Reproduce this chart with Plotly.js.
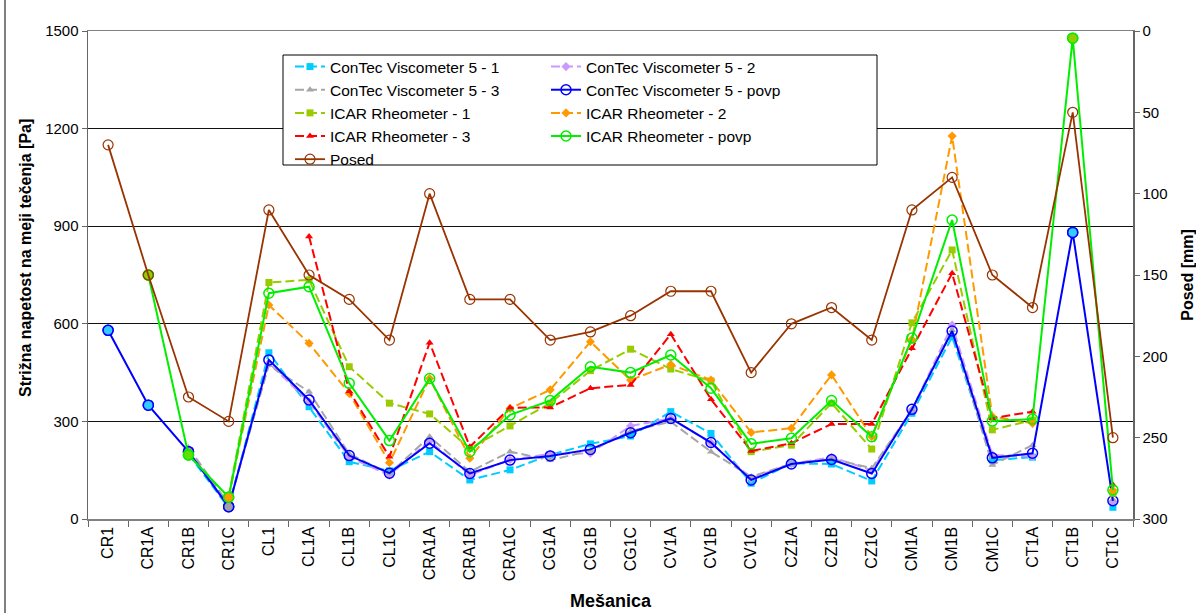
<!DOCTYPE html>
<html>
<head>
<meta charset="utf-8">
<script src="https://cdn.plot.ly/plotly-3.0.1.min.js"></script>
<style>html,body{margin:0;padding:0;background:#fff;}#chart{width:1196px;height:613px;}</style>
</head>
<body>
<div id="chart"></div>
<script>
const categories = ["CR1","CR1A","CR1B","CR1C","CL1","CL1A","CL1B","CL1C","CRA1A","CRA1B","CRA1C","CG1A","CG1B","CG1C","CV1A","CV1B","CV1C","CZ1A","CZ1B","CZ1C","CM1A","CM1B","CM1C","CT1A","CT1B","CT1C"];

const contec1 = [null,null,200,34,511,345,176,148,207,120,151,197,231,255,330,263,110,171,169,117,325,560,181,190,null,36];
const contec2 = [null,null,210,40,479,360,190,135,240,135,182,200,202,286,309,234,125,170,190,150,335,596,197,192,null,53];
const contec3 = [null,null,220,45,473,391,200,140,253,145,207,181,210,270,299,207,130,170,185,156,335,580,166,227,null,60];
const contecAvg = [580,350,207,38,489,366,195,141,233,140,181,194,214,265,309,235,120,169,183,140,337,578,188,202,881,56];

const icar1 = [null,null,null,70,727,735,468,356,323,217,286,356,456,522,461,424,207,227,356,215,603,827,274,304,null,79];
const icar2 = [null,null,null,67,658,540,386,173,432,187,340,397,545,427,475,427,266,279,443,253,552,1177,315,294,null,88];
const icar3 = [null,null,null,null,null,868,393,191,542,222,342,343,402,412,568,368,209,233,292,292,525,755,310,330,null,105];
const icarAvg = [null,750,197,67,694,714,417,241,432,207,320,364,468,450,504,402,231,248,364,253,556,919,301,307,1478,89];

const posed = [70,150,225,240,110,150,165,190,100,165,165,190,185,175,160,160,210,180,170,190,110,90,150,170,50,250];

const seriesNames = ["ConTec Viscometer 5 - 1","ConTec Viscometer 5 - 2","ConTec Viscometer 5 - 3","ConTec Viscometer 5 - povp","ICAR Rheometer - 1","ICAR Rheometer - 2","ICAR Rheometer - 3","ICAR Rheometer - povp","Posed"];
const yTicksLeft = [0,300,600,900,1200,1500];
const yTicksRight = [0,50,100,150,200,250,300];
</script>
<script>
const dash = '9px,4px';
const transparent = 'rgba(0,0,0,0)';
const T = (name, y, color, symbol, dashed, legend, opts) => Object.assign({
  type: 'scatter', mode: 'lines+markers', name: name, x: categories, y: y,
  line: {color: color, width: 2, dash: dashed ? dash : 'solid'},
  marker: {symbol: symbol, size: 7, color: color},
  legend: legend, legendgroup: name, connectgaps: false
}, opts || {});

// points drawn with a filled average marker (only one measurement shown)
const contecFillColor = {0: '#33ccff', 1: '#33ccff', 24: '#33ccff', 2: '#a0a0a0', 3: '#a0a0a0'};
const icarFillColor = {1: '#99cc00', 24: '#99cc00', 2: '#66dd00', 3: '#ff9900'};
const filledOverlay = (vals, fills, lineColor) => {
  const idx = Object.keys(fills).map(Number).sort((a, b) => a - b);
  return {
    type: 'scatter', mode: 'markers', showlegend: false, hoverinfo: 'skip',
    x: idx.map(i => categories[i]), y: idx.map(i => vals[i]),
    marker: {symbol: 'circle', size: 10, color: idx.map(i => fills[i]), line: {color: lineColor, width: 1.5}}
  };
};

const traces = [
  T(seriesNames[0], contec1, '#00ccff', 'square', true, 'legend'),
  T(seriesNames[1], contec2, '#cc99ff', 'diamond', true, 'legend2'),
  T(seriesNames[2], contec3, '#a6a6a6', 'triangle-up', true, 'legend'),
  T(seriesNames[3], contecAvg, '#0000ff', 'circle', false, 'legend2',
    {marker: {symbol: 'circle', size: 10, color: transparent, line: {color: '#0000ff', width: 1.5}}}),
  filledOverlay(contecAvg, contecFillColor, '#0000ff'),
  T(seriesNames[4], icar1, '#99cc00', 'square', true, 'legend'),
  T(seriesNames[5], icar2, '#ff9900', 'diamond', true, 'legend2'),
  T(seriesNames[6], icar3, '#ff0000', 'triangle-up', true, 'legend'),
  T(seriesNames[7], icarAvg, '#00ee00', 'circle', false, 'legend2',
    {marker: {symbol: 'circle', size: 10, color: transparent, line: {color: '#00ee00', width: 1.5}}}),
  filledOverlay(icarAvg, icarFillColor, '#00ee00'),
  T(seriesNames[8], posed, '#993300', 'circle-open', false, 'legend',
    {yaxis: 'y2', line: {color: '#993300', width: 1.8}, marker: {symbol: 'circle-open', size: 10, color: '#993300', line: {width: 1.2}}})
];

const font = "'Liberation Sans', Arial, sans-serif";
const px = v => (v - 88) / 1045;
const py = v => (519 - v) / 488;
const layout = {
  width: 1196, height: 613,
  margin: {l: 88, r: 63, t: 31, b: 94},
  paper_bgcolor: '#ffffff', plot_bgcolor: '#ffffff',
  font: {family: font, color: '#000', size: 15},
  showlegend: true,
  xaxis: {
    type: 'category', categoryorder: 'array', categoryarray: categories,
    range: [-0.5, categories.length - 0.5],
    tickangle: -90, tickfont: {size: 16, family: font},
    ticks: 'outside', tickson: 'boundaries', ticklen: 6, tickcolor: '#666',
    showline: true, linecolor: '#808080', linewidth: 1.5, mirror: true,
    showgrid: false, zeroline: false, automargin: false,
    title: {text: 'Mešanica', font: {size: 18, family: font, weight: 'bold'}, standoff: 14}
  },
  yaxis: {
    range: [0, 1500], tickvals: yTicksLeft, ticktext: yTicksLeft.map(String),
    tickfont: {size: 15, family: font},
    ticks: 'outside', ticklen: 5, tickcolor: '#666',
    showline: true, linecolor: '#666', linewidth: 1.5,
    showgrid: true, gridcolor: '#111', gridwidth: 1, zeroline: false, automargin: false
  },
  yaxis2: {
    overlaying: 'y', side: 'right', range: [300, 0], autorange: false,
    tickvals: yTicksRight, ticktext: yTicksRight.map(String),
    tickfont: {size: 15, family: font},
    ticks: 'outside', ticklen: 5, tickcolor: '#666',
    showline: true, linecolor: '#666', linewidth: 1.5,
    showgrid: false, zeroline: false, automargin: false,
    title: {text: 'Posed [mm]', font: {size: 16, family: font, weight: 'bold'}, standoff: 20}
  },
  annotations: [
    {text: 'Strižna napetost na meji tečenja [Pa]', xref: 'paper', yref: 'paper',
     x: px(25), y: py(258), textangle: -90, showarrow: false, xanchor: 'center', yanchor: 'middle',
     font: {size: 16, family: font, weight: 'bold', color: '#000'}}
  ],
  legend: {
    x: px(290), y: py(50), xanchor: 'left', yanchor: 'top',
    bgcolor: transparent, borderwidth: 0, tracegroupgap: 1,
    font: {size: 15.5, family: font}, traceorder: 'normal'
  },
  legend2: {
    x: px(546), y: py(50), xanchor: 'left', yanchor: 'top',
    bgcolor: transparent, borderwidth: 0, tracegroupgap: 1,
    font: {size: 15.5, family: font}, traceorder: 'normal'
  },
  shapes: [
    {type: 'rect', xref: 'paper', yref: 'paper', layer: 'above',
     x0: px(283), x1: px(877), y0: py(165), y1: py(55),
     line: {color: '#000', width: 1}, fillcolor: '#ffffff'},
    {type: 'line', xref: 'paper', yref: 'paper', x0: px(5), x1: px(5), y0: -1, y1: 2,
     line: {color: '#000', width: 1}}
  ]
};

Plotly.newPlot('chart', traces, layout, {displayModeBar: false, staticPlot: true});
</script>
</body>
</html>
